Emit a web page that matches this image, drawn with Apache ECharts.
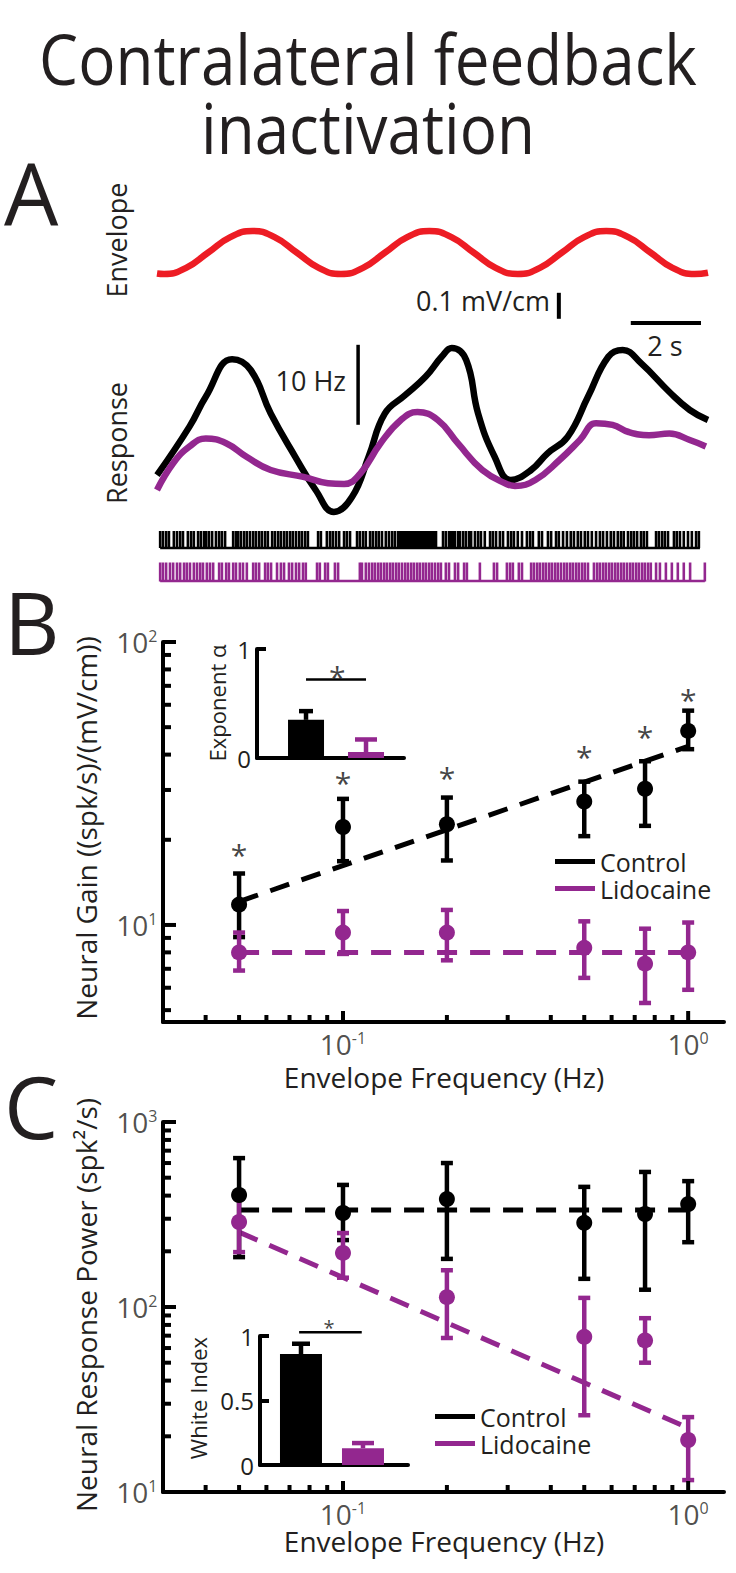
<!DOCTYPE html>
<html><head><meta charset="utf-8">
<script src="https://cdn.jsdelivr.net/npm/echarts@6/dist/echarts.min.js"></script>
<style>html,body{margin:0;padding:0;background:#fff}#c{width:736px;height:1573px}</style>
</head><body><div id="c"></div>
<script>
// ================= DATA =================
// Panel A – envelope (mV/cm) sampled over time (s)
const envT = [0, 0.2, 0.83, 1.46, 2.09, 2.72, 3.35, 3.98, 4.61, 5.24, 5.87, 6.5, 7.13, 7.76, 8.39, 9.02, 9.65, 10.28, 10.91, 11.54, 12.17, 12.8, 13.43, 14.06, 14.69, 15.32, 15.7];
const envV = [-0.081, -0.083, -0.059, 0, 0.059, 0.083, 0.059, 0, -0.059, -0.083, -0.059, 0, 0.059, 0.083, 0.059, 0, -0.059, -0.083, -0.059, 0, 0.059, 0.083, 0.059, 0, -0.059, -0.083, -0.078];
// Panel A – firing rate (Hz)
const ctlRateT = [0, 0.93, 1.39, 2.14, 2.67, 3.24, 3.94, 4.52, 5.04, 5.56, 6.03, 6.49, 7.07, 7.65, 8.11, 8.40, 8.81, 9.15, 9.62, 10.08, 10.66, 11.12, 11.70, 12.28, 12.86, 13.27, 13.79, 14.6, 15.18, 15.7];
const ctlRateV = [5.6, 11.7, 15.4, 20.1, 18.75, 13.3, 7.9, 3.75, 1.0, 2.9, 7.9, 13.3, 15.6, 17.9, 20.4, 21.5, 20.0, 13.3, 7.9, 5.0, 6.25, 8.3, 10.4, 15.4, 20.4, 21.25, 19.6, 16.0, 13.75, 12.5];
const lidRateT = [0, 0.46, 0.93, 1.39, 1.97, 2.55, 3.24, 4.17, 4.87, 5.33, 5.79, 6.37, 6.95, 7.42, 8.0, 8.57, 9.27, 9.96, 10.2, 10.78, 11.47, 12.05, 12.51, 12.98, 13.44, 14.02, 14.6, 15.18, 15.64];
const lidRateV = [3.75, 7.1, 9.2, 10.2, 9.6, 7.9, 6.25, 5.4, 4.6, 4.5, 5.8, 9.6, 12.5, 13.5, 12.5, 9.6, 6.25, 4.5, 4.25, 5.0, 7.5, 10.0, 12.1, 11.9, 11.0, 10.6, 10.8, 10.0, 9.2];
// Panel A – spike times (s)
const ctlSpikes = [0.09,0.17,0.26,0.34,0.48,0.57,0.66,0.74,0.88,0.97,1.05,1.17,1.25,1.34,1.40,1.48,1.57,1.68,1.77,1.85,1.94,2.17,2.25,2.31,2.39,2.48,2.56,2.65,2.74,2.82,2.91,2.99,3.08,3.16,3.28,3.36,3.45,3.53,3.62,3.70,3.79,3.87,3.96,4.05,4.13,4.22,4.30,4.59,4.67,4.84,4.93,5.01,5.10,5.19,5.33,5.41,5.50,5.70,5.78,5.87,5.95,6.07,6.15,6.24,6.32,6.41,6.52,6.61,6.70,6.78,6.87,6.92,6.98,7.04,7.09,7.15,7.21,7.26,7.32,7.38,7.44,7.49,7.55,7.61,7.66,7.72,7.78,7.83,7.89,7.95,8.15,8.23,8.32,8.38,8.43,8.49,8.58,8.63,8.72,8.80,8.89,8.95,9.06,9.15,9.23,9.34,9.49,9.57,9.66,9.77,9.86,10.00,10.09,10.17,10.28,10.40,10.54,10.63,10.71,10.88,10.97,11.14,11.23,11.37,11.45,11.57,11.68,11.79,11.88,11.99,12.08,12.19,12.28,12.39,12.51,12.62,12.71,12.82,12.93,13.02,13.13,13.22,13.30,13.42,13.51,13.59,13.68,13.79,13.87,13.96,14.22,14.30,14.39,14.47,14.56,14.73,14.81,14.90,15.01,15.13,15.24,15.36,15.44];
const lidSpikes = [0.09,0.17,0.26,0.37,0.46,0.57,0.66,0.77,0.85,0.94,1.05,1.14,1.23,1.31,1.42,1.51,1.60,1.77,1.85,1.97,2.05,2.17,2.25,2.36,2.45,2.56,2.74,2.82,2.91,3.08,3.16,3.25,3.42,3.53,3.62,3.76,3.85,3.96,4.05,4.16,4.24,4.56,4.64,4.79,4.87,5.07,5.16,5.78,5.84,5.95,6.04,6.13,6.21,6.30,6.38,6.47,6.55,6.64,6.72,6.81,6.89,6.98,7.07,7.15,7.24,7.32,7.41,7.49,7.58,7.66,7.75,7.83,7.92,8.01,8.09,8.23,8.32,8.49,8.58,8.75,8.83,9.20,9.60,9.69,9.97,10.06,10.14,10.31,10.40,10.66,10.74,10.83,10.91,11.00,11.08,11.17,11.25,11.34,11.42,11.51,11.60,11.68,11.77,11.85,11.94,12.02,12.11,12.19,12.28,12.45,12.54,12.62,12.71,12.79,12.88,12.96,13.05,13.13,13.22,13.30,13.39,13.48,13.56,13.65,13.73,13.82,13.90,13.99,14.07,14.22,14.33,14.50,14.67,14.84,15.01,15.19,15.61];
const ctlRasterSpan = [0.09, 15.47];
const lidRasterSpan = [0.09, 15.61];

// Panels B and C – envelope frequencies (Hz)
const freqs = [0.05, 0.1, 0.2, 0.5, 0.75, 1.0];
// Panel B – neural gain ((spk/s)/(mV/cm))
const gainCtl   = [11.8, 22.2, 22.7, 27.3, 30.3, 48.5];
const gainCtlLo = [9.06, 16.8, 16.9, 20.6, 22.4, 41.8];
const gainCtlHi = [15.2, 27.9, 28.2, 32.1, 37.9, 57.2];
const gainLid   = [8.0, 9.4, 9.4, 8.3, 7.3, 8.0];
const gainLidLo = [6.9, 7.9, 7.5, 6.5, 5.3, 5.9];
const gainLidHi = [9.4, 11.2, 11.3, 10.3, 9.7, 10.2];
const fitF = [0.05, 1.0];
const gainFitCtl = [12.1, 42.8];
const gainFitLid = [8.0, 8.0];
const gainStarY = [19.0, 33.9, 35.3, 42.2, 49.6, 67.1];
// Panel B inset – exponent alpha
const groups = ['Control', 'Lidocaine'];
const alphaMean = [0.35, 0.055];
const alphaErr  = [0.43, 0.17];
const alphaSig  = 0.72;
// Panel C – neural response power (spk^2/s)
const powCtl   = [403, 322, 383, 285, 318, 360];
const powCtlLo = [186, 230, 182, 142, 124, 224];
const powCtlHi = [638, 457, 600, 446, 537, 479];
const powLid   = [288, 196, 113, 69, 66, 19.1];
const powLidLo = [198, 144, 68, 26, 50, 11.6];
const powLidHi = [403, 251, 158, 112, 87, 25.4];
const powFitCtl = [334, 334];
const powFitLid = [254, 22.2];
// Panel C inset – white index
const whiteMean = [0.86, 0.13];
const whiteErr  = [0.94, 0.17];
const whiteSig  = 1.03;
// Axis ticks
const xMinorTicks = [0.04,0.05,0.06,0.07,0.08,0.09,0.2,0.3,0.4,0.5,0.6,0.7,0.8,0.9];
const xMajorTicks = [0.1, 1];
const xTickExp = ['-1', '0'];
const bYMinor = [5,6,7,8,9,20,30,40,50,60,70,80,90];
const bYMajor = [10, 100];
const bYExp = ['1', '2'];
const cYMinor = [20,30,40,50,60,70,80,90,200,300,400,500,600,700,800,900];
const cYMajor = [10, 100, 1000];
const cYExp = ['1', '2', '3'];

// ================= STYLE / LAYOUT =================
const FONT = '"Open Sans", "Noto Sans", sans-serif';
const TXT = '#231f20';
const PURPLE = '#93278f';
const RED = '#ed1c24';
const BLK = '#000000';
const X_MIN = 0.0301, X_MAX = 1.27;
const B_YMIN = 4.54, B_YMAX = 100;
const C_YMIN = 10, C_YMAX = 1000;

const zip = (a, b) => a.map((v, i) => [v, b[i]]);

function gtext(text, x, y, size, opt) {
  opt = opt || {};
  return { type: 'text', x: x, y: y, rotation: opt.rot || 0, scaleY: opt.sy || 1, silent: true, z: 10,
    style: { text: text, fill: opt.color || TXT, fontSize: size, fontFamily: FONT,
      align: opt.align || 'center', verticalAlign: 'middle' } };
}

function errSeries(xi, yi, data, color, capHalf, upperOnly, z) {
  return { type: 'custom', xAxisIndex: xi, yAxisIndex: yi, silent: true, clip: false, z: z || 3,
    data: data,
    renderItem: function (params, api) {
      const x = api.value(0);
      const p1 = api.coord([x, api.value(1)]);
      const p2 = api.coord([x, api.value(2)]);
      const st = { stroke: color, lineWidth: 4.5, fill: null };
      const ch = [
        { type: 'line', shape: { x1: p1[0], y1: p1[1], x2: p2[0], y2: p2[1] }, style: st },
        { type: 'line', shape: { x1: p2[0] - capHalf, y1: p2[1], x2: p2[0] + capHalf, y2: p2[1] }, style: st }
      ];
      if (!upperOnly) ch.push({ type: 'line', shape: { x1: p1[0] - capHalf, y1: p1[1], x2: p1[0] + capHalf, y2: p1[1] }, style: st });
      return { type: 'group', children: ch };
    } };
}

function tickSeries(xi, yi, vals, fixed, len, dir) {
  return { type: 'custom', xAxisIndex: xi, yAxisIndex: yi, silent: true, clip: false, z: 6,
    data: vals.map(v => dir === 'x' ? [v, fixed] : [fixed, v]),
    renderItem: function (params, api) {
      const p = api.coord([api.value(0), api.value(1)]);
      const shape = dir === 'x' ? { x1: p[0], y1: p[1], x2: p[0], y2: p[1] - len }
                                : { x1: p[0], y1: p[1], x2: p[0] + len, y2: p[1] };
      return { type: 'line', shape: shape, style: { stroke: BLK, lineWidth: 4 } };
    } };
}

function powLabels(xi, yi, vals, exps, fixed, dir) {
  return { type: 'scatter', xAxisIndex: xi, yAxisIndex: yi, silent: true, clip: false, z: 6,
    symbolSize: 1, itemStyle: { color: 'rgba(0,0,0,0)' },
    data: vals.map((v, i) => ({ value: dir === 'x' ? [v, fixed] : [fixed, v], exp: exps[i] })),
    label: { show: true, position: dir === 'x' ? 'bottom' : 'left', distance: dir === 'x' ? 7 : 5,
      formatter: p => '{b|10}{s|' + p.data.exp + '}',
      rich: { b: { fontSize: 28, fontFamily: FONT, color: TXT, lineHeight: 28 },
              s: { fontSize: 16, fontFamily: FONT, color: TXT, lineHeight: 14, verticalAlign: 'top' } } } };
}

function starSeries(xi, yi, data, size) {
  return { type: 'scatter', xAxisIndex: xi, yAxisIndex: yi, silent: true, clip: false, z: 6,
    symbolSize: 1, itemStyle: { color: 'rgba(0,0,0,0)' }, data: data,
    label: { show: true, position: 'inside', formatter: '*', fontSize: size, fontFamily: FONT,
      color: '#111', offset: [0, Math.round(size * 0.27)] } };
}

function lineS(xi, yi, data, color, width, extra) {
  return Object.assign({ type: 'line', xAxisIndex: xi, yAxisIndex: yi, data: data, showSymbol: false,
    symbol: 'none', silent: true, clip: false, lineStyle: { color: color, width: width }, itemStyle: { color: color } }, extra || {});
}

function markers(xi, yi, data, color) {
  return { type: 'scatter', xAxisIndex: xi, yAxisIndex: yi, data: data, symbol: 'circle', symbolSize: 16,
    silent: true, clip: false, z: 4, itemStyle: { color: color, opacity: 1 } };
}

const hiddenX = { type: 'value', min: 0, max: 15.7, show: false };
const logAxisCommon = { axisLine: { show: true, onZero: false, lineStyle: { color: BLK, width: 4 } },
  axisTick: { show: false }, axisLabel: { show: false }, splitLine: { show: false } };

const grids = [
  { left: 157, top: 226.5, width: 551, height: 104 },   // 0 envelope
  { left: 157, top: 330, width: 551, height: 190 },     // 1 response
  { left: 157, top: 525, width: 551, height: 62 },      // 2 raster
  { left: 163, top: 642, width: 561, height: 380 },     // 3 B main
  { left: 257, top: 649, width: 147, height: 109 },     // 4 B inset
  { left: 163, top: 1122, width: 561, height: 370 },    // 5 C main
  { left: 260, top: 1336, width: 148, height: 129 }     // 6 C inset
];

const insetY = (interval, gi) => ({ type: 'value', gridIndex: gi, min: 0, max: 1, interval: interval,
  axisLine: { show: true, onZero: false, lineStyle: { color: BLK, width: 4 } },
  axisTick: { show: true, inside: true, length: 9, lineStyle: { color: BLK, width: 4 } },
  axisLabel: { fontSize: 24, fontFamily: FONT, color: TXT, margin: 6 },
  splitLine: { show: false } });
const insetX = (mn, mx, gi) => ({ type: 'value', gridIndex: gi, min: mn, max: mx,
  axisLine: { show: true, onZero: false, lineStyle: { color: BLK, width: 4 } },
  axisTick: { show: false }, axisLabel: { show: false }, splitLine: { show: false } });

const xAxes = [
  Object.assign({ gridIndex: 0 }, hiddenX),
  Object.assign({ gridIndex: 1 }, hiddenX),
  Object.assign({ gridIndex: 2 }, hiddenX),
  Object.assign({ type: 'log', gridIndex: 3, min: X_MIN, max: X_MAX }, logAxisCommon),
  insetX(0.183, 2.633, 4),
  Object.assign({ type: 'log', gridIndex: 5, min: X_MIN, max: X_MAX }, logAxisCommon),
  insetX(0.339, 2.726, 6)
];
const yAxes = [
  { type: 'value', gridIndex: 0, min: -0.3, max: 0.1, show: false },
  { type: 'value', gridIndex: 1, min: 0, max: 23.75, show: false },
  { type: 'value', gridIndex: 2, min: 0, max: 62, show: false },
  Object.assign({ type: 'log', gridIndex: 3, min: B_YMIN, max: B_YMAX }, logAxisCommon),
  insetY(1, 4),
  Object.assign({ type: 'log', gridIndex: 5, min: C_YMIN, max: C_YMAX }, logAxisCommon),
  insetY(0.5, 6)
];

const series = [];
// ---- Panel A ----
series.push(lineS(0, 0, zip(envT, envV), RED, 6.5, { smooth: 0.5 }));
series.push(lineS(0, 0, [[11.45, -0.155], [11.45, -0.255]], BLK, 4));        // 0.1 mV/cm bar
series.push(lineS(0, 0, [[13.5, -0.271], [15.5, -0.271]], BLK, 4));          // 2 s bar
series.push(lineS(1, 1, zip(ctlRateT, ctlRateV), BLK, 6.5, { smooth: 0.45 }));
series.push(lineS(1, 1, zip(lidRateT, lidRateV), PURPLE, 6.5, { smooth: 0.45 }));
series.push(lineS(1, 1, [[5.73, 11.9], [5.73, 21.9]], BLK, 3.5));            // 10 Hz bar
series.push(lineS(2, 2, ctlRasterSpan.map(t => [t, 39]), BLK, 2.5));
series.push(lineS(2, 2, lidRasterSpan.map(t => [t, 6]), PURPLE, 2.5));
series.push({ type: 'scatter', xAxisIndex: 2, yAxisIndex: 2, silent: true, symbol: 'rect', symbolSize: [2.6, 17],
  itemStyle: { color: BLK, opacity: 1 }, data: ctlSpikes.map(t => [t, 47.5]) });
series.push({ type: 'scatter', xAxisIndex: 2, yAxisIndex: 2, silent: true, symbol: 'rect', symbolSize: [2.6, 19],
  itemStyle: { color: PURPLE, opacity: 1 }, data: lidSpikes.map(t => [t, 15]) });

// ---- Panel B ----
const dash = [20, 13];
series.push(lineS(3, 3, zip(fitF, gainFitCtl), BLK, 5, { name: 'Control', lineStyle: { color: BLK, width: 5, type: dash }, z: 2 }));
series.push(lineS(3, 3, zip(fitF, gainFitLid), PURPLE, 5, { name: 'Lidocaine', lineStyle: { color: PURPLE, width: 5, type: dash }, z: 2 }));
series.push(errSeries(3, 3, freqs.map((f, i) => [f, gainCtlLo[i], gainCtlHi[i]]), BLK, 6, false, 3));
series.push(errSeries(3, 3, freqs.map((f, i) => [f, gainLidLo[i], gainLidHi[i]]), PURPLE, 6, false, 3));
series.push(markers(3, 3, zip(freqs, gainCtl), BLK));
series.push(markers(3, 3, zip(freqs, gainLid), PURPLE));
series.push(starSeries(3, 3, zip(freqs, gainStarY), 30));
series.push(tickSeries(3, 3, xMinorTicks, B_YMIN, 7, 'x'));
series.push(tickSeries(3, 3, xMajorTicks, B_YMIN, 11, 'x'));
series.push(tickSeries(3, 3, bYMinor, X_MIN, 8, 'y'));
series.push(tickSeries(3, 3, bYMajor, X_MIN, 13, 'y'));
series.push(powLabels(3, 3, xMajorTicks, xTickExp, B_YMIN, 'x'));
series.push(powLabels(3, 3, bYMajor, bYExp, X_MIN, 'y'));
// B inset
series.push({ type: 'bar', xAxisIndex: 4, yAxisIndex: 4, silent: true, barWidth: 36, z: 2,
  data: alphaMean.map((v, i) => ({ value: [i + 1, v], itemStyle: { color: i === 0 ? BLK : PURPLE } })) });
series.push(errSeries(4, 4, [[1, alphaMean[0], alphaErr[0]]], BLK, 7, true, 3));
series.push(errSeries(4, 4, [[2, alphaMean[1], alphaErr[1]]], PURPLE, 11, true, 3));
series.push(lineS(4, 4, [[1, alphaSig], [2, alphaSig]], BLK, 2.5));
series.push(starSeries(4, 4, [[1.52, alphaSig + 0.105]], 30));

// ---- Panel C ----
series.push(lineS(5, 5, zip(fitF, powFitCtl), BLK, 5, { name: 'Control', lineStyle: { color: BLK, width: 5, type: dash }, z: 2 }));
series.push(lineS(5, 5, zip(fitF, powFitLid), PURPLE, 5, { name: 'Lidocaine', lineStyle: { color: PURPLE, width: 5, type: dash }, z: 2 }));
series.push(errSeries(5, 5, freqs.map((f, i) => [f, powCtlLo[i], powCtlHi[i]]), BLK, 6, false, 3));
series.push(errSeries(5, 5, freqs.map((f, i) => [f, powLidLo[i], powLidHi[i]]), PURPLE, 6, false, 3));
series.push(markers(5, 5, zip(freqs, powCtl), BLK));
series.push(markers(5, 5, zip(freqs, powLid), PURPLE));
series.push(tickSeries(5, 5, xMinorTicks, C_YMIN, 7, 'x'));
series.push(tickSeries(5, 5, xMajorTicks, C_YMIN, 11, 'x'));
series.push(tickSeries(5, 5, cYMinor, X_MIN, 8, 'y'));
series.push(tickSeries(5, 5, cYMajor, X_MIN, 13, 'y'));
series.push(powLabels(5, 5, xMajorTicks, xTickExp, C_YMIN, 'x'));
series.push(powLabels(5, 5, cYMajor, cYExp, X_MIN, 'y'));
// C inset
series.push({ type: 'bar', xAxisIndex: 6, yAxisIndex: 6, silent: true, barWidth: 42, z: 2,
  data: whiteMean.map((v, i) => ({ value: [i + 1, v], itemStyle: { color: i === 0 ? BLK : PURPLE } })) });
series.push(errSeries(6, 6, [[1, whiteMean[0], whiteErr[0]]], BLK, 9, true, 3));
series.push(errSeries(6, 6, [[2, whiteMean[1], whiteErr[1]]], PURPLE, 11, true, 3));
series.push(lineS(6, 6, [[0.97, whiteSig], [1.98, whiteSig]], BLK, 2.5));
series.push(starSeries(6, 6, [[1.45, whiteSig + 0.075]], 20));

const legendCommon = { orient: 'vertical', icon: 'rect', itemWidth: 40, itemHeight: 5, itemGap: 2,
  selectedMode: false, textStyle: { fontSize: 25, fontFamily: FONT, color: TXT, lineHeight: 25 },
  data: [{ name: 'Control', itemStyle: { color: BLK } }, { name: 'Lidocaine', itemStyle: { color: PURPLE } }] };

const option = {
  animation: false,
  backgroundColor: '#ffffff',
  grid: grids,
  xAxis: xAxes,
  yAxis: yAxes,
  legend: [
    Object.assign({ left: 550, top: 844 }, legendCommon),
    Object.assign({ left: 430, top: 1399 }, legendCommon)
  ],
  series: series,
  graphic: [
    gtext('Contralateral feedback', 368, 58, 62, { sy: 1.12 }),
    gtext('inactivation', 368, 127, 62, { sy: 1.12 }),
    gtext('A', 4, 192, 86, { align: 'left' }),
    gtext('B', 4, 621, 86, { align: 'left' }),
    gtext('C', 4, 1105, 86, { align: 'left' }),
    gtext('Envelope', 116, 240, 27, { rot: Math.PI / 2 }),
    gtext('Response', 116, 443, 27, { rot: Math.PI / 2 }),
    gtext('0.1 mV/cm', 550, 300, 27, { align: 'right' }),
    gtext('2 s', 665, 345, 27),
    gtext('10 Hz', 346, 380, 27, { align: 'right' }),
    gtext('Neural Gain ((spk/s)/(mV/cm))', 86, 828, 28, { rot: Math.PI / 2 }),
    gtext('Envelope Frequency (Hz)', 444, 1077, 28),
    gtext('Exponent \u03b1', 217, 703, 22, { rot: Math.PI / 2 }),
    gtext('Neural Response Power (spk\u00b2/s)', 86, 1305, 28, { rot: Math.PI / 2 }),
    gtext('Envelope Frequency (Hz)', 444, 1541, 28),
    gtext('White Index', 198, 1398, 22, { rot: Math.PI / 2 })
  ]
};

const chart = echarts.init(document.getElementById('c'), null, { renderer: 'svg', width: 736, height: 1573 });
chart.setOption(option);
</script>
</body></html>
